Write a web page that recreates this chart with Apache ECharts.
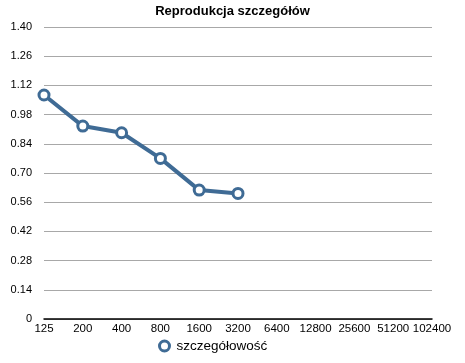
<!DOCTYPE html>
<html><head><meta charset="utf-8">
<script src="https://cdn.jsdelivr.net/npm/echarts@6/dist/echarts.min.js"></script>
<style>html,body{margin:0;padding:0;background:#fff}#c{width:465px;height:363px}</style>
</head><body><div id="c"></div>
<script>
const categories = ['125','200','400','800','1600','3200','6400','12800','25600','51200','102400'];
const seriesName = 'szczegółowość';
const values = [1.074, 0.925, 0.893, 0.770, 0.618, 0.602];
const chart = echarts.init(document.getElementById('c'));
const font = 'Liberation Sans, Arial, sans-serif';
const blue = '#3f6b95';
chart.setOption({
  animation: false,
  title: { text: 'Reprodukcja szczegółów', left: 'center', top: 0,
    textStyle: { fontFamily: font, fontSize: 13, fontWeight: 'bold', color: '#000' } },
  grid: { left: 44, right: 33, top: 27, bottom: 44 },
  legend: { bottom: 5, left: 153, itemWidth: 10, itemHeight: 10, itemGap: 8,
    data: [{ name: seriesName, icon: 'circle',
      itemStyle: { color: '#fff', borderColor: blue, borderWidth: 3 } }],
    textStyle: { fontFamily: font, fontSize: 13.5, color: '#000', padding: [0, 0, 0, 2] } },
  xAxis: { type: 'category', data: categories, boundaryGap: false,
    axisLine: { lineStyle: { color: '#000', width: 1.5 } },
    axisTick: { show: false },
    axisLabel: { fontFamily: font, fontSize: 11.5, color: '#000', margin: 4, interval: 0 } },
  yAxis: { type: 'value', min: 0, max: 1.4, interval: 0.14,
    axisLine: { show: false }, axisTick: { show: false },
    splitLine: { lineStyle: { color: '#a8a8a8', width: 1 } },
    axisLabel: { fontFamily: font, fontSize: 11, color: '#000', margin: 12,
      formatter: v => v === 0 ? '0' : v.toFixed(2) } },
  series: [{ name: seriesName, type: 'line', data: values,
    symbol: 'circle', symbolSize: 10,
    lineStyle: { color: blue, width: 4 },
    itemStyle: { color: '#fff', borderColor: blue, borderWidth: 3 } }]
});
</script></body></html>
